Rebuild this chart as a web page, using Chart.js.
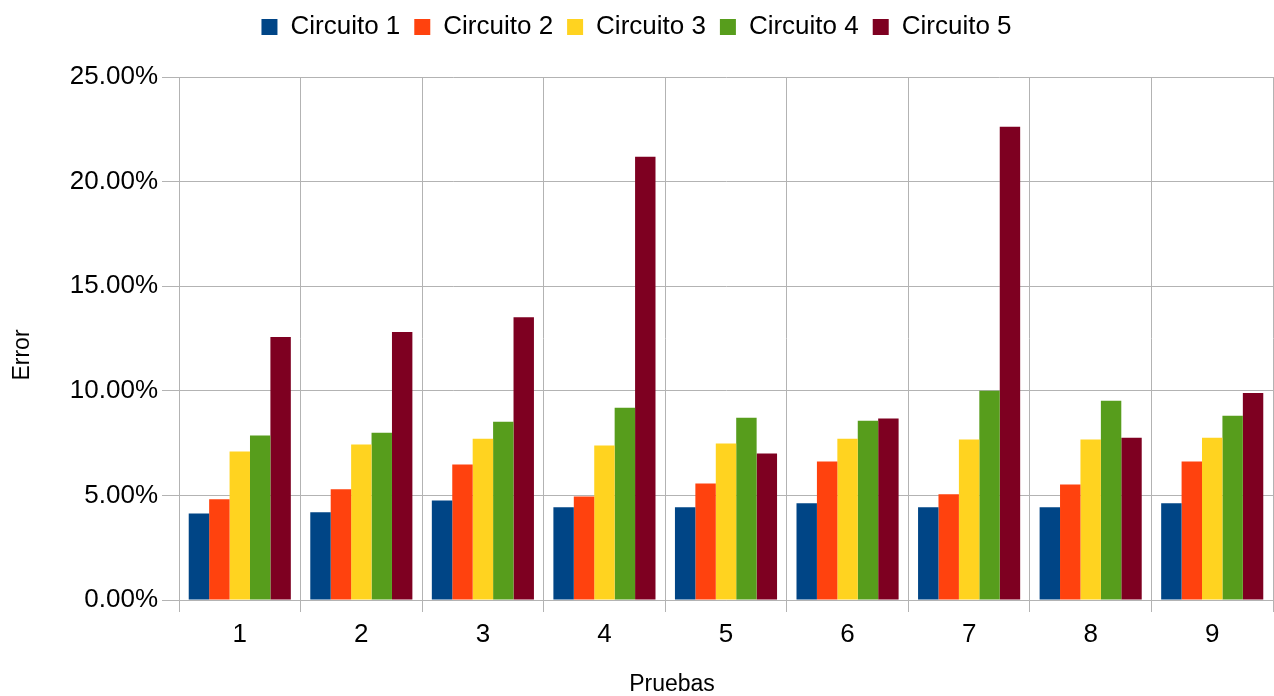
<!DOCTYPE html>
<html>
<head>
<meta charset="utf-8">
<script src="https://cdn.jsdelivr.net/npm/chart.js@4.4.1/dist/chart.umd.min.js"></script>
<style>
  html, body { margin: 0; padding: 0; background: #fff; }
  #wrap { width: 1274px; height: 696px; }
</style>
</head>
<body>
<div id="wrap"><canvas id="chart" width="1274" height="696"></canvas></div>
<script>
        // Error (%) per prueba
        const pruebas = ['1', '2', '3', '4', '5', '6', '7', '8', '9'];
        const circuito1 = [4.14, 4.19, 4.76, 4.43, 4.43, 4.62, 4.43, 4.43, 4.62];
        const circuito2 = [4.81, 5.29, 6.48, 4.95, 5.57, 6.62, 5.05, 5.52, 6.62];
        const circuito3 = [7.10, 7.43, 7.71, 7.38, 7.48, 7.71, 7.67, 7.67, 7.76];
        const circuito4 = [7.86, 8.00, 8.52, 9.19, 8.71, 8.57, 10.00, 9.52, 8.81];
        const circuito5 = [12.57, 12.81, 13.52, 21.19, 7.00, 8.67, 22.62, 7.76, 9.90];
        const yTicks = [0, 5, 10, 15, 20, 25];

        const gridColor = '#b3b3b3';
        const fontFamily = '"Liberation Sans", Arial, sans-serif';
        Chart.defaults.font.family = fontFamily;
        Chart.defaults.color = '#000';

        const serie = (label, data, color) => ({
            label: label,
            data: data,
            backgroundColor: color,
            borderWidth: 0,
            categoryPercentage: 0.84,
            barPercentage: 1.0
        });

        // stretch legend box so the plot starts where the reference does
        const legendHeight = {
            id: 'legendHeight',
            beforeInit(chart) {
                const fit = chart.legend.fit;
                chart.legend.fit = function () {
                    fit.bind(chart.legend)();
                    this.height = 77;
                };
            }
        };

        // axis titles sit a bit off-centre in the original, so draw them by hand
        const axisTitles = {
            id: 'axisTitles',
            afterDraw(chart) {
                const ctx = chart.ctx;
                ctx.save();
                ctx.fillStyle = '#000';
                ctx.font = '23px ' + fontFamily;
                ctx.textAlign = 'center';
                ctx.textBaseline = 'middle';
                ctx.fillText('Pruebas', 672, 685);
                ctx.translate(23, 355);
                ctx.rotate(-Math.PI / 2);
                ctx.fillText('Error', 0, 0);
                ctx.restore();
            }
        };

        new Chart(document.getElementById('chart'), {
            type: 'bar',
            data: {
                labels: pruebas,
                datasets: [
                    serie('Circuito 1', circuito1, '#004586'),
                    serie('Circuito 2', circuito2, '#ff420e'),
                    serie('Circuito 3', circuito3, '#ffd320'),
                    serie('Circuito 4', circuito4, '#579d1c'),
                    serie('Circuito 5', circuito5, '#7e0021')
                ]
            },
            options: {
                responsive: false,
                animation: false,
                layout: { padding: { left: 0, right: 1, top: 0, bottom: 0 } },
                plugins: {
                    legend: {
                        position: 'top',
                        labels: {
                            boxWidth: 16,
                            boxHeight: 16,
                            padding: 14,
                            font: { size: 26 }
                        }
                    },
                    tooltip: { enabled: false }
                },
                scales: {
                    x: {
                        grid: { color: gridColor, offset: true, tickLength: 12, lineWidth: 1 },
                        border: { color: gridColor },
                        ticks: { font: { size: 26 }, padding: 7 },
                        afterFit(scale) { scale.height = 96; }
                    },
                    y: {
                        min: 0,
                        max: 25,
                        afterBuildTicks(scale) { scale.ticks = yTicks.map(v => ({ value: v })); },
                        grid: { color: gridColor, tickLength: 17 },
                        border: { color: gridColor },
                        ticks: {
                            font: { size: 26 },
                            padding: 4,
                            callback: v => v.toFixed(2) + '%'
                        },
                        afterFit(scale) { scale.width = 179; }
                    }
                }
            },
            plugins: [legendHeight, axisTitles]
        });
</script>
</body>
</html>
